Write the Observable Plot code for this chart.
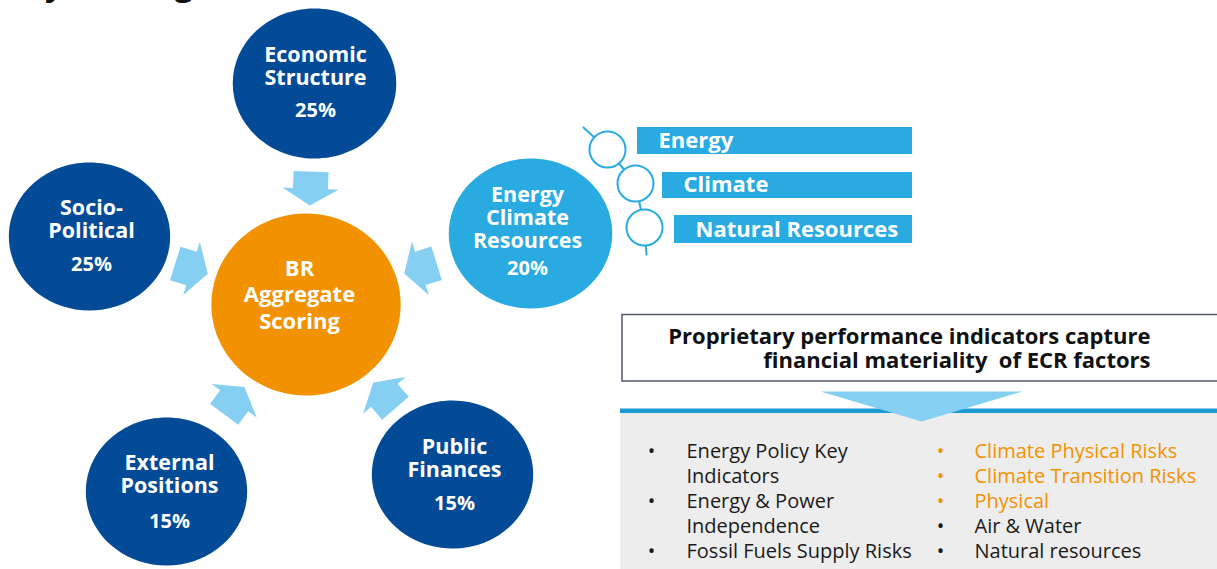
<!DOCTYPE html>
<html><head><meta charset="utf-8">
<script src="https://cdn.jsdelivr.net/npm/d3@7"></script>
<script src="https://cdn.jsdelivr.net/npm/@observablehq/plot@0.6"></script>
<style>html,body{margin:0;padding:0;background:#fff;overflow:hidden}</style>
</head><body><div id="chart"></div>
<script>
// ---- content ----
const titleText = "Key Scoring";
const factorNames = ["Economic\nStructure", "Socio-\nPolitical", "External\nPositions", "Public\nFinances", "Energy\nClimate\nResources"];
const factorWeights = ["25%", "25%", "15%", "15%", "20%"];
const factorKinds = ["core", "core", "core", "core", "ecr"];
const hubName = "BR\nAggregate\nScoring";
const ecrPillars = ["Energy", "Climate", "Natural Resources"];
const headline = ["Proprietary performance indicators capture", "financial materiality  of ECR factors"];
const leftIndicators = ["Energy Policy Key", "Indicators", "Energy & Power", "Independence", "Fossil Fuels Supply Risks"];
const leftBulleted = [true, false, true, false, true];
const rightIndicators = ["Climate Physical Risks", "Climate Transition Risks", "Physical", "Air & Water", "Natural resources"];
const rightHighlighted = [true, true, true, false, false];

// ---- layout (pixels) ----
const hub = {x: 305.5, y: 304, ry: 91, ratio: 1.04, tx: 299, nameY: 328, lineGap: 26.5};
const nodeLayout = [
  {x: 314, y: 83, ry: 75, tx: 315, nameY: 84, pctY: 116},
  {x: 89, y: 236, ry: 74, tx: 91, nameY: 237, pctY: 270},
  {x: 166, y: 491, ry: 74, tx: 169, nameY: 492, pctY: 527},
  {x: 452, y: 474, ry: 74, tx: 454, nameY: 476, pctY: 509},
  {x: 530, y: 233, ry: 75, tx: 527, nameY: 247, pctY: 274}
];
const nameGap = 22.6;
const pillarLayout = [
  {x1: 637, y1: 127, y2: 154, tx: 658, cx: 607, cy: 149},
  {x1: 662, y1: 172, y2: 198, tx: 683, cx: 635, cy: 183},
  {x1: 674, y1: 215, y2: 243, tx: 695, cx: 644, cy: 227}
];
const barRight = 912;
const colors = {navy: "#034A97", sky: "#29ABE2", orange: "#F39200", arrow: "#85CFF3", panel: "#EDEDED", line: "#1C9AD6", text: "#1a1a1a"};

const nodes = factorNames.map((name, i) => ({name, weight: factorWeights[i], kind: factorKinds[i], ...nodeLayout[i]}));
// one text row per label line (last line sits on nameY)
const nameLines = nodes.flatMap(n => {
  const ls = n.name.split("\n");
  return ls.map((t, j) => ({t, x: n.tx, y: n.nameY - (ls.length - 1 - j) * nameGap}));
});
const hubLines = hubName.split("\n").map((t, j, ls) => ({t, x: hub.tx, y: hub.nameY - (ls.length - 1 - j) * hub.lineGap}));

function ellipseSymbol(ratio) {
  return {draw(ctx, size) {
    const ry = Math.sqrt(size / Math.PI), rx = ry * ratio, k = 0.5522847498;
    ctx.moveTo(rx, 0);
    ctx.bezierCurveTo(rx, ry * k, rx * k, ry, 0, ry);
    ctx.bezierCurveTo(-rx * k, ry, -rx, ry * k, -rx, 0);
    ctx.bezierCurveTo(-rx, -ry * k, -rx * k, -ry, 0, -ry);
    ctx.bezierCurveTo(rx * k, -ry, rx, -ry * k, rx, 0);
    ctx.closePath();
  }};
}

// block arrows from each factor toward hub
const arrowPts = [];
nodes.forEach((n, i) => {
  let dx = n.x - hub.x, dy = n.y - hub.y;
  const d = Math.hypot(dx, dy); dx /= d; dy /= d;
  const tipD = i === 0 ? 99 : 103;
  const tip = [hub.x + dx * tipD, hub.y + dy * tipD];
  const ux = -dx, uy = -dy, px = -uy, py = ux;
  const L = 34, HL = 17, sw = 17.5, hw = 28;
  const b = [tip[0] - ux * HL, tip[1] - uy * HL];
  const t = [tip[0] - ux * L, tip[1] - uy * L];
  const poly = [tip, [b[0] + px * hw, b[1] + py * hw], [b[0] + px * sw, b[1] + py * sw], [t[0] + px * sw, t[1] + py * sw],
    [t[0] - px * sw, t[1] - py * sw], [b[0] - px * sw, b[1] - py * sw], [b[0] - px * hw, b[1] - py * hw]];
  poly.forEach(([x, y]) => arrowPts.push({id: i, x, y}));
});

// chain through pillar circles
const chain = [{x: 583, y: 127}, ...pillarLayout.map(p => ({x: p.cx, y: p.cy})), {x: 646, y: 254}];
const pillars = ecrPillars.map((name, i) => ({name, ...pillarLayout[i]}));

// right panel
const box = {x1: 622, x2: 1235, y1: 314.5, y2: 381};
const tri = [{x: 820, y: 391}, {x: 1022, y: 391}, {x: 921, y: 421}];
const rowY = [457, 482, 507, 532, 557];
const leftRows = leftIndicators.map((t, i) => ({t, y: rowY[i], b: leftBulleted[i]}));
const rightRows = rightIndicators.map((t, i) => ({t, y: rowY[i], hi: rightHighlighted[i]}));

const sans = "'Open Sans', 'Noto Sans', sans-serif";
const plot = Plot.plot({
  width: 1217, height: 569, margin: 0,
  x: {type: "identity"}, y: {type: "identity"}, r: {type: "identity"},
  style: {fontFamily: sans, background: "white", overflow: "hidden"},
  marks: [
    Plot.text([titleText], {x: 3, y: -6, text: d => d, textAnchor: "start", lineAnchor: "bottom", fontSize: 33, fontWeight: "bold", fill: "#111"}),
    // arrows
    Plot.line(arrowPts, {x: "x", y: "y", z: "id", fill: colors.arrow, stroke: "none", curve: "linear"}),
    // factor circles
    Plot.dot(nodes, {x: "x", y: "y", r: "ry", symbol: ellipseSymbol(1.09), fill: d => d.kind === "ecr" ? colors.sky : colors.navy, stroke: "none"}),
    Plot.dot([hub], {x: "x", y: "y", r: hub.ry, symbol: ellipseSymbol(hub.ratio), fill: colors.orange, stroke: "none"}),
    Plot.text(nameLines, {x: "x", y: "y", text: "t", lineAnchor: "bottom", fontSize: 21.5, fontWeight: "bold", fill: "white"}),
    Plot.text(nodes, {x: "tx", y: "pctY", text: "weight", lineAnchor: "bottom", fontSize: 20, fontWeight: "bold", fill: "white"}),
    Plot.text(hubLines, {x: "x", y: "y", text: "t", lineAnchor: "bottom", fontSize: 22, fontWeight: "bold", fill: "white"}),
    // ECR pillars
    Plot.rect(pillars, {x1: "x1", x2: () => barRight, y1: "y1", y2: "y2", fill: colors.sky}),
    Plot.text(pillars, {x: "tx", y: d => d.y2 - 7, text: "name", textAnchor: "start", lineAnchor: "bottom", fontSize: 22, fontWeight: "bold", fill: "white"}),
    Plot.line(chain, {x: "x", y: "y", stroke: colors.sky, strokeWidth: 2}),
    Plot.dot(pillars, {x: "cx", y: "cy", r: 18, fill: "white", stroke: colors.sky, strokeWidth: 2}),
    // right panel
    Plot.rect([box], {x1: "x1", x2: "x2", y1: "y1", y2: "y2", fill: "white", stroke: "#4f5766", strokeWidth: 1.5}),
    Plot.text(headline, {x: 1150, y: (d, i) => 343 + i * 24, text: d => d, textAnchor: "end", lineAnchor: "bottom", fontSize: 22, fontWeight: "bold", fill: "#111"}),
    Plot.rect([0], {x1: 620, x2: 1217, y1: 408.5, y2: 413, fill: colors.line}),
    Plot.rect([0], {x1: 620, x2: 1217, y1: 413, y2: 569, fill: colors.panel}),
    Plot.line(tri, {x: "x", y: "y", fill: colors.arrow, stroke: "none"}),
    Plot.text(leftRows.filter(d => d.b), {x: 651, y: "y", text: () => "•", lineAnchor: "bottom", fontSize: 20, fill: colors.text}),
    Plot.text(leftRows, {x: 686, y: "y", text: "t", textAnchor: "start", lineAnchor: "bottom", fontSize: 20, fill: colors.text}),
    Plot.text(rightRows, {x: 940, y: "y", text: () => "•", lineAnchor: "bottom", fontSize: 20, fill: d => d.hi ? colors.orange : colors.text}),
    Plot.text(rightRows, {x: 974, y: "y", text: "t", textAnchor: "start", lineAnchor: "bottom", fontSize: 20, fill: d => d.hi ? colors.orange : colors.text})
  ]
});
document.getElementById("chart").appendChild(plot);
</script>
</body></html>
